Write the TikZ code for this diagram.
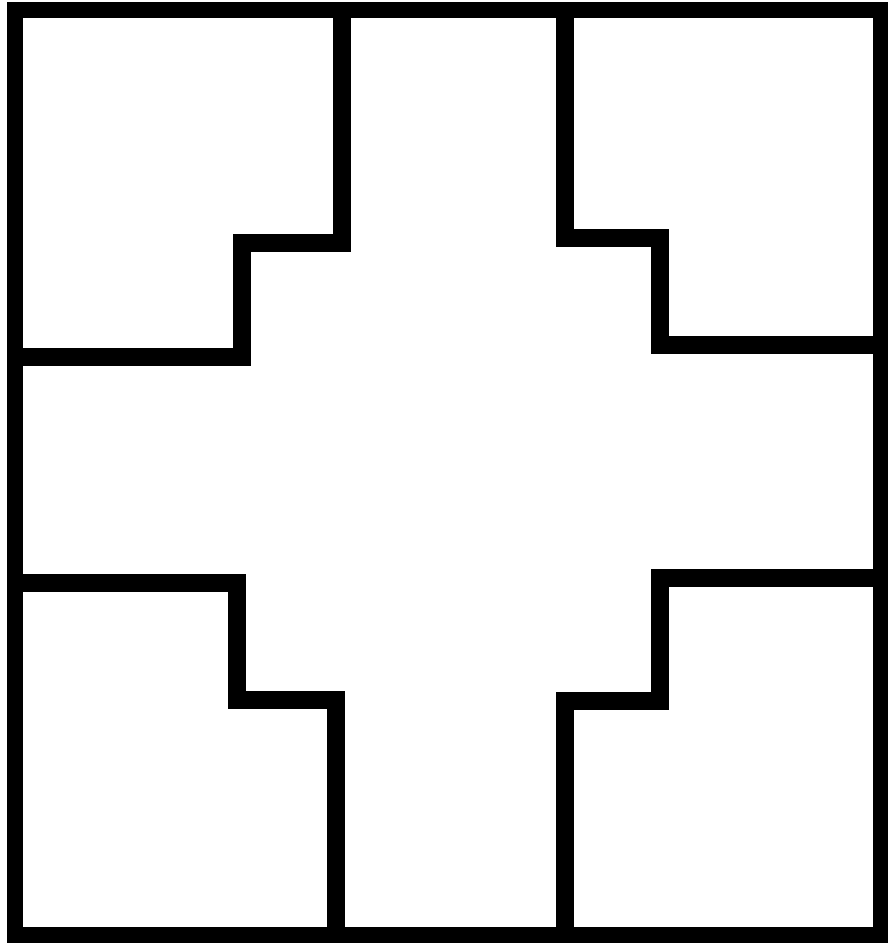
\documentclass[tikz,border=0pt]{standalone}
\begin{document}
\begin{tikzpicture}[x=1pt,y=1pt,
  wall/.style={line width=18pt, line join=miter, line cap=butt, draw=black}]
\fill[white] (0,0) rectangle (888,943);
\useasboundingbox (0,0) rectangle (888,943);
% outer wall
\draw[wall, line width=16pt] (15,932.5) rectangle (881,8);
% top-left room
\draw[wall] (342,932.5) -- (342,700) -- (242,700) -- (242,586) -- (15,586);
% top-right room
\draw[wall] (565,932.5) -- (565,705) -- (660,705) -- (660,598) -- (881,598);
% bottom-left room
\draw[wall] (15,360) -- (237,360) -- (237,243) -- (336,243) -- (336,8);
% bottom-right room
\draw[wall] (881,365) -- (660,365) -- (660,242) -- (565,242) -- (565,8);
\end{tikzpicture}
\end{document}
